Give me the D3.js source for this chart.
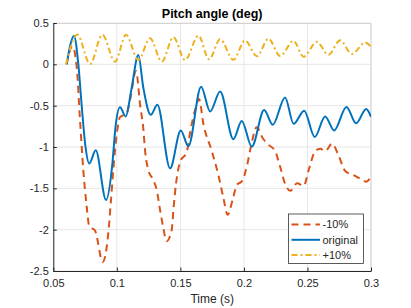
<!DOCTYPE html>
<html>
<head>
<meta charset="utf-8">
<script src="https://cdn.jsdelivr.net/npm/d3@7"></script>
<style>
  body { margin: 0; background: #fff; }
  text { font-family: "Liberation Sans", Arial, sans-serif; fill: #262626; }
</style>
</head>
<body>
<div id="chart"></div>
<script>
// -10% run
const tMinus = [0.0605, 0.0650, 0.0684, 0.0710, 0.0736, 0.0763, 0.0783, 0.0828, 0.0889, 0.0933,
  0.0954, 0.0972, 0.0999, 0.1025, 0.1078, 0.1104, 0.1151, 0.1183, 0.1209, 0.1222,
  0.1248, 0.1287, 0.1314, 0.1340, 0.1366, 0.1391, 0.1432, 0.1445, 0.1466, 0.1498,
  0.1550, 0.1576, 0.1616, 0.1647, 0.1681, 0.1747, 0.1799, 0.1839, 0.1872, 0.1911,
  0.1944, 0.1986, 0.2025, 0.2057, 0.2100, 0.2151, 0.2191, 0.2246, 0.2285, 0.2325,
  0.2364, 0.2419, 0.2470, 0.2513, 0.2561, 0.2600, 0.2639, 0.2694, 0.2744, 0.2797,
  0.2862, 0.2923, 0.2962, 0.3000]
const vMinus = [0, 0.22, -0.03, -0.67, -1.28, -1.72, -1.96, -2.01, -2.39, -2.04,
  -1.64, -1.28, -0.85, -0.64, -0.59, -0.43, -0.08, -0.49, -0.79, -1.04,
  -1.28, -1.40, -1.52, -1.76, -1.98, -2.14, -2.00, -1.76, -1.44, -1.18,
  -1.06, -0.83, -0.55, -0.42, -0.72, -1.05, -1.34, -1.62, -1.82, -1.64,
  -1.46, -1.41, -1.22, -0.98, -0.76, -0.90, -0.97, -1.05, -1.24, -1.45,
  -1.53, -1.44, -1.47, -1.26, -1.05, -1.02, -1.05, -0.96, -1.10, -1.29,
  -1.34, -1.39, -1.42, -1.36]

// original
const tOrig = [0.0605, 0.0663, 0.0697, 0.0724, 0.0752, 0.0783, 0.0834, 0.0915, 0.0965, 0.0990,
  0.1025, 0.1070, 0.1115, 0.1169, 0.1208, 0.1267, 0.1319, 0.1419, 0.1503, 0.1563,
  0.1663, 0.1734, 0.1813, 0.1917, 0.1983, 0.2062, 0.2159, 0.2227, 0.2324, 0.2391,
  0.2474, 0.2557, 0.2639, 0.2710, 0.2807, 0.2883, 0.2962, 0.3000]
const vOrig = [0, 0.343, 0, -0.51, -0.98, -1.20, -1.04, -1.64, -1.20, -0.75,
  -0.52, -0.63, -0.30, 0.113, -0.28, -0.61, -0.49, -1.258, -0.80, -0.99,
  -0.27, -0.57, -0.33, -0.905, -0.685, -0.996, -0.552, -0.73, -0.40, -0.72,
  -0.56, -0.88, -0.63, -0.80, -0.515, -0.713, -0.54, -0.635]

// +10% run
const tPlus = [0.0600, 0.0689, 0.0789, 0.0886, 0.0986, 0.1072, 0.1169, 0.1261, 0.1354, 0.1445,
  0.1537, 0.1642, 0.1726, 0.1813, 0.1917, 0.2009, 0.2102, 0.2193, 0.2285, 0.2390,
  0.2469, 0.2574, 0.2665, 0.2757, 0.2850, 0.2954, 0.3000]
const vPlus = [0, 0.36, 0.004, 0.357, 0.032, 0.357, 0.052, 0.315, 0.032, 0.327,
  0.052, 0.347, 0.06, 0.303, 0.055, 0.29, 0.097, 0.31, 0.10, 0.284,
  0.093, 0.272, 0.115, 0.29, 0.125, 0.264, 0.213]

const seriesNames = ["-10%", "original", "+10%"]
const seriesColors = ["#D95319", "#0072BD", "#EDB120"]

const xTicks = [0.05, 0.1, 0.15, 0.2, 0.25, 0.3]
const xTickLabels = ["0.05", "0.1", "0.15", "0.2", "0.25", "0.3"]
const yTicks = [0.5, 0, -0.5, -1, -1.5, -2, -2.5]
const yTickLabels = ["0.5", "0", "-0.5", "-1", "-1.5", "-2", "-2.5"]

var width = 411
var height = 308
var margin = { left: 53.3, right: 40, top: 23, bottom: 37 }
var innerWidth = width - margin.left - margin.right
var innerHeight = height - margin.top - margin.bottom

var svg = d3.select("#chart").append("svg")
  .attr("width", width)
  .attr("height", height)

svg.append("rect").attr("width", width).attr("height", height).attr("fill", "#fff")

var xScale = d3.scaleLinear().domain([0.05, 0.3]).range([0, innerWidth])
var yScale = d3.scaleLinear().domain([-2.5, 0.5]).range([innerHeight, 0])

var g = svg.append("g")
  .attr("transform", "translate(" + margin.left + "," + margin.top + ")")

// grid
g.append("g").selectAll("line")
  .data(xTicks)
  .enter().append("line")
  .attr("x1", d => xScale(d)).attr("x2", d => xScale(d))
  .attr("y1", 0).attr("y2", innerHeight)
  .attr("stroke", "#e6e6e6").attr("stroke-width", 1)

g.append("g").selectAll("line")
  .data(yTicks)
  .enter().append("line")
  .attr("x1", 0).attr("x2", innerWidth)
  .attr("y1", d => yScale(d)).attr("y2", d => yScale(d))
  .attr("stroke", "#e6e6e6").attr("stroke-width", 1)

// top / right edge
g.append("path")
  .attr("d", "M0,0.5H" + innerWidth + "V" + innerHeight)
  .attr("fill", "none").attr("stroke", "#d4d4d4")

g.append("clipPath").attr("id", "clip")
  .append("rect").attr("width", innerWidth).attr("height", innerHeight)

var line = d3.line()
  .x(d => xScale(d[0]))
  .y(d => yScale(d[1]))
  .curve(d3.curveMonotoneX)

var series = [
  { name: seriesNames[0], color: seriesColors[0], dash: "7,5", pts: d3.zip(tMinus, vMinus) },
  { name: seriesNames[1], color: seriesColors[1], dash: null, pts: d3.zip(tOrig, vOrig) },
  { name: seriesNames[2], color: seriesColors[2], dash: "6,3,2,3", pts: d3.zip(tPlus, vPlus) }
]

g.append("g").attr("clip-path", "url(#clip)")
  .selectAll("path")
  .data(series)
  .enter().append("path")
  .attr("d", d => line(d.pts))
  .attr("fill", "none")
  .attr("stroke", d => d.color)
  .attr("stroke-width", 2)
  .attr("stroke-dasharray", d => d.dash)

// axes
var xAxis = d3.axisBottom(xScale)
  .tickValues(xTicks)
  .tickFormat((d, i) => xTickLabels[i])
  .tickSizeInner(-3.5).tickSizeOuter(0).tickPadding(8)

var yAxis = d3.axisLeft(yScale)
  .tickValues(yTicks)
  .tickFormat((d, i) => yTickLabels[i])
  .tickSizeInner(-3.5).tickSizeOuter(0).tickPadding(4.5)

var xAxisG = g.append("g")
  .attr("transform", "translate(0," + innerHeight + ")")
  .call(xAxis)
var yAxisG = g.append("g").call(yAxis)

;[xAxisG, yAxisG].forEach(a => {
  a.select(".domain").attr("stroke", "#262626")
  a.selectAll(".tick line").attr("stroke", "#262626")
  a.selectAll(".tick text")
    .attr("fill", "#262626")
    .style("font-family", '"Liberation Sans", Arial, sans-serif')
    .style("font-size", "11px")
})

svg.append("text")
  .attr("x", margin.left + innerWidth / 2)
  .attr("y", 18)
  .attr("text-anchor", "middle")
  .style("font-size", "12.5px")
  .style("font-weight", "bold")
  .style("fill", "#000")
  .text("Pitch angle (deg)")

svg.append("text")
  .attr("x", margin.left + innerWidth / 2)
  .attr("y", 303)
  .attr("text-anchor", "middle")
  .style("font-size", "12px")
  .text("Time (s)")

// legend
var legend = svg.append("g").attr("transform", "translate(288.5,214)")
legend.append("rect")
  .attr("width", 75).attr("height", 49.5)
  .attr("fill", "#fff").attr("stroke", "#262626").attr("stroke-width", 0.75)

var item = legend.selectAll(".key")
  .data(series)
  .enter().append("g")
  .attr("class", "key")
  .attr("transform", (d, i) => `translate(0,${10.5 + i * 15.3})`)

item.append("line")
  .attr("x1", 3).attr("x2", 31.5)
  .attr("stroke", d => d.color)
  .attr("stroke-width", 2)
  .attr("stroke-dasharray", d => d.dash)

item.append("text")
  .attr("x", 34)
  .attr("dy", "0.36em")
  .style("font-size", "11px")
  .text(d => d.name)
</script>
</body>
</html>
